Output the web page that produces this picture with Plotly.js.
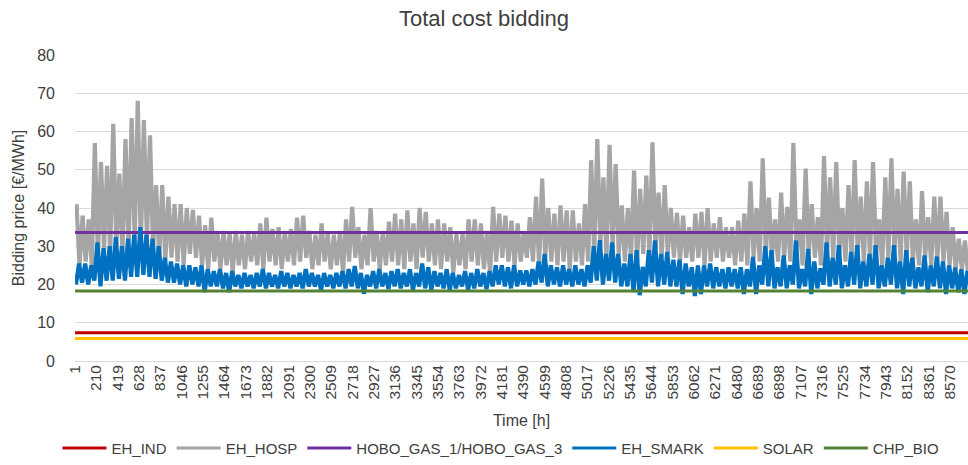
<!DOCTYPE html>
<html>
<head>
<meta charset="utf-8">
<script src="https://cdn.plot.ly/plotly-3.0.1.min.js"></script>
<style>html,body{margin:0;padding:0;background:#fff;}#chart{width:968px;height:465px;}</style>
</head>
<body>
<div id="chart"></div>
<script>
// ---- data (hourly series, summarised per 60-hour block) ----
const BLOCK_HOURS = 60;
const xTickValues = [1,210,419,628,837,1046,1255,1464,1673,1882,2091,2300,2509,2718,2927,3136,3345,3554,3763,3972,4181,4390,4599,4808,5017,5226,5435,5644,5853,6062,6271,6480,6689,6898,7107,7316,7525,7734,7943,8152,8361,8570];
const xTickLabels = ["1","210","419","628","837","1046","1255","1464","1673","1882","2091","2300","2509","2718","2927","3136","3345","3554","3763","3972","4181","4390","4599","4808","5017","5226","5435","5644","5853","6062","6271","6480","6689","6898","7107","7316","7525","7734","7943","8152","8361","8570"];

// EH_HOSP: block maxima / minima
const hospPeak = [41,38,37,57,52,51,62,49,58,63.5,68,63,59,46,46,43,41,41,40,39.5,
  38,35.5,37.5,34,34,33.5,34,33,34,33.5,36,37.5,34.5,35,34,34.5,37.5,38,34,33,
  36,33.5,33,34,37,40.3,35,33,40,34,34,36.4,38.5,37,39.4,36,40,39,36,37,
  36,35,33.3,33.3,37,37,36,34,40.3,38.5,38,36.7,36,34,37.6,43,47.7,40,38.5,40.7,
  39.4,39.4,36,41,52.5,58,48,56.5,51.5,40.7,40,49.8,45,48.5,57.2,44,46,40,38.8,38,
  35,38.5,39,40,36,37.6,35,35,36.7,38.5,47,40,53,42.7,37,44,40.3,57,37,50.3,
  41,37.6,53.6,48,52,40,46,52.5,43,47,52,37,48,53,45,49.5,47,37,44.4,37.6,
  43,43,39,35,32,31.5];
const hospTrough = [25,26,25,27,29,28,30,28,29,31,30,31,29,27,26,27,26,25,28,27,
  25,24,26,24,25,23,25,24,26,25,24,26,25,24,26,25,26,27,24,25,
  26,24,25,23,26,27,24,25,26,24,25,26,25,24,26,24,27,26,25,24,
  26,23,25,24,26,25,24,23,26,27,26,25,26,27,26,25,27,26,25,26,
  24,26,25,26,28,30,27,29,28,26,27,26,28,27,29,27,28,27,26,27,
  26,27,25,26,27,26,27,25,26,25,27,26,28,27,26,27,26,29,25,28,
  27,25,28,27,28,26,27,28,26,27,28,25,27,28,26,27,26,25,27,25,
  26,26,25,24,24,23];

// EH_SMARK: block maxima / minima
const smarkPeak = [25.5,25.5,25,31,29.5,30,32.4,30,32,33,35,33,32,30,27,26,25.5,25,25,24.5,
  25,24,23.5,24,23,23.5,22.5,23,22.5,23,24,23,22.5,23.5,23,22.5,23,24,23,22.5,
  23,22.5,23,23.5,24,24.8,23,22.5,23.5,24,23,23.5,24,23,24,23,25.5,24.5,23.5,23,
  24,23,22.5,23.5,23,24,23,23.5,25,25,24.5,25,23.7,23.7,24,26,28,25,24.5,25,
  24,25,24,25,30,31.6,28,31,28,25.5,28,29,24.6,29,31.5,28,28.5,26.5,26.5,25.5,
  24.5,25,25,25.5,24.5,24,24.5,24,24.5,24,27.2,25,30,29,24.5,27.6,25,31.5,24,29.3,
  26,24.2,31,27,30.3,25,28.5,30.3,26,28,30.3,25,27,30.3,26,29,27,24.5,27.6,25,
  27.3,26,25,24.4,24,23.6];
const smarkTrough = [20,20.5,20,21,19.5,21,21,21.5,21,22,22,22.5,22,21.5,21,20.5,20.5,20,19.5,20,
  19.5,18,19.5,19.5,19,18,19.5,19,19.5,19,19.5,19,19.5,19,19.5,19,19.5,19,19.5,19.5,
  18.5,19.5,19,19.5,19,19.5,19,17.6,19.5,19,19.5,18.8,19.5,19,19.5,18.5,19.5,19,18.5,19.5,
  19,18.5,19,19.5,18.5,19,19.5,18.8,19.5,20,19.5,19,19.5,20,19.5,20,20.5,19.5,20,19.5,
  20,19.5,20,19.5,20.5,21,20,21,20.5,19.5,19.5,18,17.2,19.5,20.5,19.5,20,19.5,19.5,17.5,
  19.5,17,17.5,19.5,19,19.5,19,19.5,19,17.5,19.5,17.5,20,19.5,19,19.5,19,20,19,19.5,
  17.5,19,20,19.5,20,19,19.5,20,19,19.5,20,19,19.5,20,19,17.5,19.5,19,19.5,18,
  19.5,19,17.5,19,18,17.5];

// constant bidding prices [€/MWh]
const yearHours = [1, 8760];
const ehIndPrice = 7.4;
const hoboPrice = 33.6;
const solarPrice = 5.9;
const chpBioPrice = 18.3;

// ---- build traces ----
function zigzag(peaks, troughs, peakOffset, troughOffset) {
  const pts = [];
  for (let i = 0; i < peaks.length; i++) {
    pts.push([i * BLOCK_HOURS + peakOffset, peaks[i]]);
    pts.push([i * BLOCK_HOURS + troughOffset, troughs[i]]);
  }
  pts.sort((a, b) => a[0] - b[0]);
  return {x: pts.map(p => p[0]), y: pts.map(p => p[1])};
}
const hosp = zigzag(hospPeak, hospTrough, 15, 45);
const smark = zigzag(smarkPeak, smarkTrough, 40, 10);

const W = 3;
const COLORS = {ind: '#C00000', hosp: '#A5A5A5', hobo: '#7030A0', smark: '#0070C0', solar: '#FFC000', bio: '#548235'};
const traces = [
  {name: 'EH_IND', x: yearHours, y: yearHours.map(() => ehIndPrice), mode: 'lines', line: {color: COLORS.ind, width: W}, legendrank: 1},
  {name: 'EH_HOSP', x: hosp.x, y: hosp.y, mode: 'lines', line: {color: COLORS.hosp, width: 4.2}, showlegend: false},
  {name: 'HOBO_GAS_1/HOBO_GAS_3', x: yearHours, y: yearHours.map(() => hoboPrice), mode: 'lines', line: {color: COLORS.hobo, width: W}, legendrank: 3},
  {name: 'EH_SMARK', x: smark.x, y: smark.y, mode: 'lines', line: {color: COLORS.smark, width: 4.2}, showlegend: false},
  {name: 'SOLAR', x: yearHours, y: yearHours.map(() => solarPrice), mode: 'lines', line: {color: COLORS.solar, width: W}, legendrank: 5},
  {name: 'CHP_BIO', x: yearHours, y: yearHours.map(() => chpBioPrice), mode: 'lines', line: {color: COLORS.bio, width: W}, legendrank: 6},
  // legend keys (same 3px stroke as in the reference legend)
  {name: 'EH_HOSP', x: [null], y: [null], mode: 'lines', line: {color: COLORS.hosp, width: W}, legendrank: 2},
  {name: 'EH_SMARK', x: [null], y: [null], mode: 'lines', line: {color: COLORS.smark, width: W}, legendrank: 4}
];

const FONT = 'Liberation Sans, Arial, sans-serif';
const TXT = '#404040';
const layout = {
  width: 968, height: 465,
  margin: {l: 75, r: 0, t: 55, b: 104},
  paper_bgcolor: '#fff', plot_bgcolor: '#fff',
  font: {family: FONT, color: TXT, size: 15},
  title: {text: 'Total cost bidding', x: 0.5, xanchor: 'center', y: 0.96, yanchor: 'middle', font: {family: FONT, size: 22, color: TXT}},
  xaxis: {
    range: [0.5, 8745], tickmode: 'array', tickvals: xTickValues, ticktext: xTickLabels,
    tickangle: -90, tickfont: {size: 15.5, color: TXT}, showgrid: false, zeroline: false,
    showline: false, ticks: '', automargin: false,
    title: {text: 'Time [h]', font: {size: 16, color: TXT}, standoff: 16}
  },
  yaxis: {
    range: [0, 80], dtick: 10, tick0: 0, showgrid: true, gridcolor: '#D9D9D9', gridwidth: 1,
    zeroline: true, zerolinecolor: '#D9D9D9', zerolinewidth: 1, ticks: '', ticklabelstandoff: 19,
    tickfont: {size: 16, color: TXT}, automargin: false,
    title: {text: 'Bidding price [€/MWh]', font: {size: 16, color: TXT}, standoff: 8}
  },
  showlegend: true,
  legend: {orientation: 'h', x: 0.477, xanchor: 'center', y: -0.285, yanchor: 'middle', itemwidth: 44,
    font: {size: 15, color: TXT}, bgcolor: 'rgba(0,0,0,0)', traceorder: 'normal'},
  hovermode: false
};
Plotly.newPlot('chart', traces, layout, {staticPlot: true, displayModeBar: false});
</script>
</body>
</html>
